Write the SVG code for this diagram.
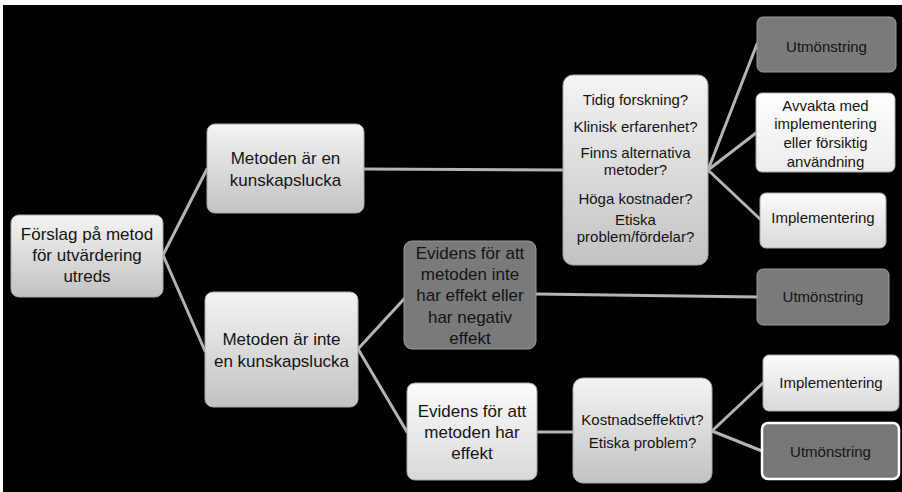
<svg xmlns="http://www.w3.org/2000/svg" width="902" height="492" viewBox="0 0 902 492">
<defs>
<linearGradient id="gLight" x1="0" y1="0" x2="0" y2="1"><stop offset="0" stop-color="#f4f4f4"/><stop offset="1" stop-color="#c2c2c2"/></linearGradient>
<linearGradient id="gPale" x1="0" y1="0" x2="0" y2="1"><stop offset="0" stop-color="#fbfbfb"/><stop offset="1" stop-color="#d9d9d9"/></linearGradient>
<linearGradient id="gWhite" x1="0" y1="0" x2="0" y2="1"><stop offset="0" stop-color="#ffffff"/><stop offset="1" stop-color="#ececec"/></linearGradient>
<style>
.box{stroke:#a8a8a8;stroke-width:1}
.light{fill:url(#gLight)}
.pale{fill:url(#gPale)}
.white{fill:url(#gWhite)}
.dark{fill:#7a7a7a;stroke:#9a9a9a}
.darkw{fill:#777777;stroke:#ffffff;stroke-width:2.5}
text{font-family:"Liberation Sans","DejaVu Sans",sans-serif;fill:#141414;text-anchor:middle}
.t17{font-size:17px}
.t14{font-size:15px}
.conn line{stroke:#b4b4b4;stroke-width:3;stroke-linecap:round}
</style>
</defs>
<rect x="0" y="0" width="902" height="492" fill="#ffffff"/>
<rect x="3" y="5" width="899" height="487" fill="#000000"/>

<g id="connectors" class="conn">
<line x1="163" y1="255" x2="207" y2="169"/>
<line x1="163" y1="255" x2="205" y2="351"/>
<line x1="364" y1="169" x2="563" y2="170"/>
<line x1="358" y1="349" x2="404" y2="299"/>
<line x1="358" y1="349" x2="407" y2="432"/>
<line x1="536" y1="294" x2="757" y2="297"/>
<line x1="537" y1="432" x2="573" y2="432"/>
<line x1="708" y1="170" x2="757" y2="44"/>
<line x1="708" y1="170" x2="756" y2="133"/>
<line x1="708" y1="170" x2="760" y2="219"/>
<line x1="712" y1="431" x2="763" y2="383"/>
<line x1="712" y1="431" x2="762" y2="451"/>
</g>

<g id="root">
<rect class="box light" x="11" y="215" width="152" height="82" rx="8"/>
<text class="t17" x="87" y="240">Förslag på metod</text>
<text class="t17" x="87" y="261">för utvärdering</text>
<text class="t17" x="87" y="282">utreds</text>
</g>

<g id="gap">
<rect class="box light" x="207" y="124" width="157" height="89" rx="8"/>
<text class="t17" x="285.5" y="164">Metoden är en</text>
<text class="t17" x="285.5" y="186">kunskapslucka</text>
</g>

<g id="nogap">
<rect class="box light" x="205" y="292" width="153" height="115" rx="8"/>
<text class="t17" x="281.5" y="345">Metoden är inte</text>
<text class="t17" x="281.5" y="367">en kunskapslucka</text>
</g>

<g id="questions">
<rect class="box light" x="563" y="75" width="145" height="190" rx="10"/>
<text class="t14" x="635.5" y="105">Tidig forskning?</text>
<text class="t14" x="635.5" y="132">Klinisk erfarenhet?</text>
<text class="t14" x="635.5" y="158">Finns alternativa</text>
<text class="t14" x="635.5" y="175">metoder?</text>
<text class="t14" x="635.5" y="204">Höga kostnader?</text>
<text class="t14" x="635.5" y="225">Etiska</text>
<text class="t14" x="635.5" y="242">problem/fördelar?</text>
</g>

<g id="noeffect">
<rect class="box dark" x="404" y="241" width="132" height="108" rx="8"/>
<text class="t17" x="470" y="259">Evidens för att</text>
<text class="t17" x="470" y="280">metoden inte</text>
<text class="t17" x="470" y="301">har effekt eller</text>
<text class="t17" x="470" y="323">har negativ</text>
<text class="t17" x="470" y="344">effekt</text>
</g>

<g id="effect">
<rect class="box pale" x="407" y="383" width="130" height="97" rx="8"/>
<text class="t17" x="472" y="417">Evidens för att</text>
<text class="t17" x="472" y="438">metoden har</text>
<text class="t17" x="472" y="459">effekt</text>
</g>

<g id="costq">
<rect class="box light" x="573" y="378" width="139" height="105" rx="10"/>
<text class="t14" x="642.5" y="425">Kostnadseffektivt?</text>
<text class="t14" x="642.5" y="448">Etiska problem?</text>
</g>

<g id="utm1">
<rect class="box dark" x="757" y="17" width="139" height="55" rx="6"/>
<text class="t14" x="826.5" y="52">Utmönstring</text>
</g>

<g id="avvakta">
<rect class="box white" x="756" y="93" width="139" height="79" rx="6"/>
<text class="t14" x="825.5" y="111">Avvakta med</text>
<text class="t14" x="825.5" y="129">implementering</text>
<text class="t14" x="825.5" y="148">eller försiktig</text>
<text class="t14" x="825.5" y="167">användning</text>
</g>

<g id="impl1">
<rect class="box pale" x="760" y="193" width="126" height="55" rx="6"/>
<text class="t14" x="823" y="223">Implementering</text>
</g>

<g id="utm2">
<rect class="box dark" x="757" y="269" width="132" height="56" rx="6"/>
<text class="t14" x="823" y="302">Utmönstring</text>
</g>

<g id="impl2">
<rect class="box pale" x="763" y="355" width="136" height="56" rx="6"/>
<text class="t14" x="831" y="388">Implementering</text>
</g>

<g id="utm3">
<rect class="darkw" x="762" y="423" width="137" height="56" rx="6"/>
<text class="t14" x="830.5" y="457">Utmönstring</text>
</g>
</svg>
